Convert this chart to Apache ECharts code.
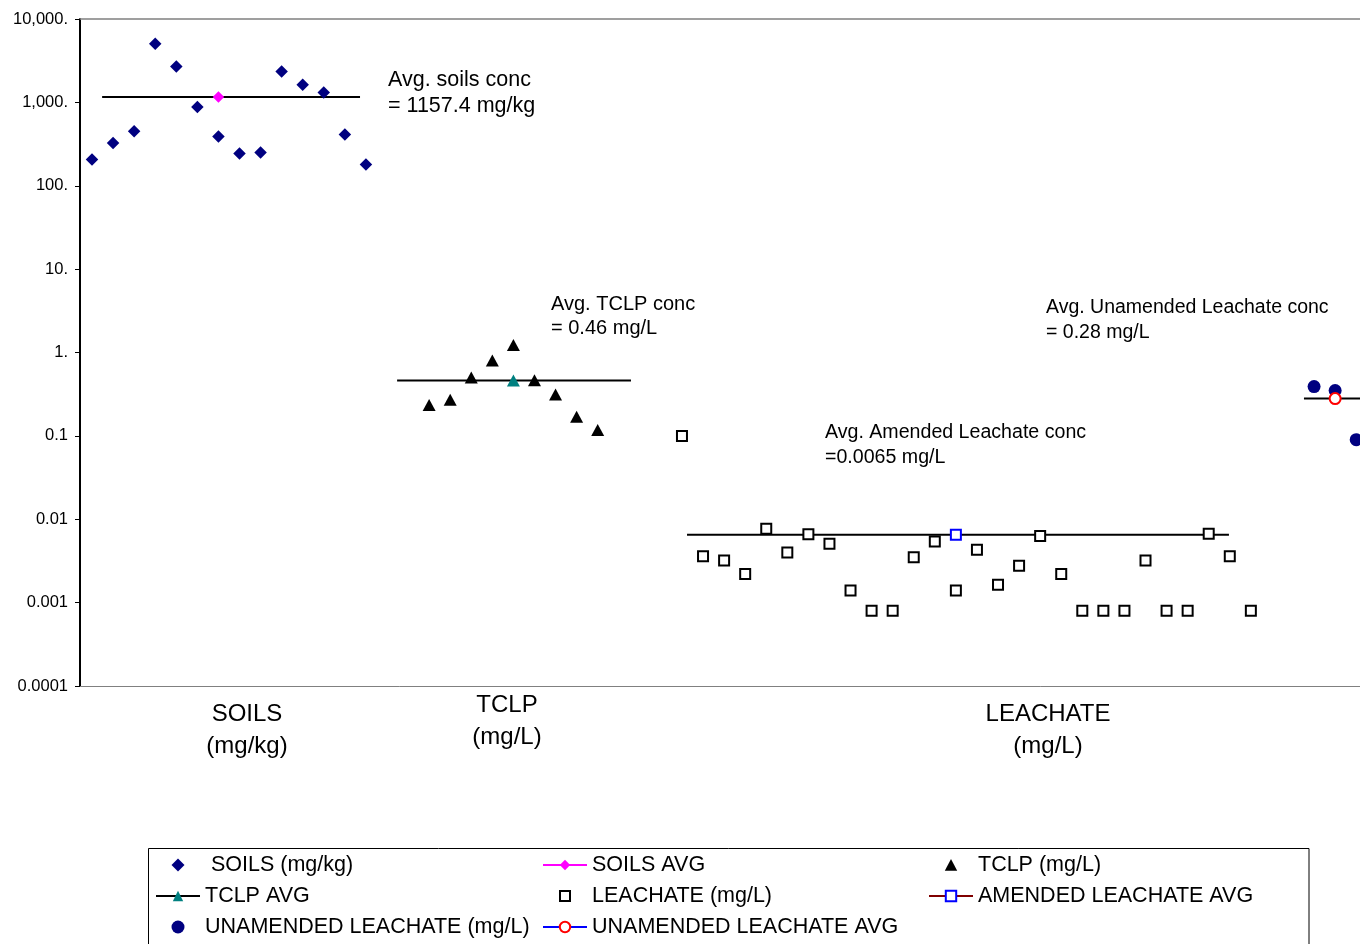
<!DOCTYPE html>
<html>
<head>
<meta charset="utf-8">
<script src="https://cdn.jsdelivr.net/npm/echarts@6/dist/echarts.min.js"></script>
<style>
  html, body { margin: 0; padding: 0; background: #fff; }
  #chart { width: 1360px; height: 944px; }
</style>
</head>
<body>
<div id="chart"></div>
<script>
// ---- data ----
const soilsStart = 1;
const soilsValues = [206, 325, 449, 5050, 2700, 880, 390, 243, 250, 2340, 1630, 1310, 411, 180];
const tclpStart = 17;
const tclpValues = [0.234, 0.272, 0.50, 0.80, 1.23, 0.466, 0.313, 0.170, 0.118];
const leachateStart = 29;
const leachateValues = [0.1, 0.0036, 0.0032, 0.0022, 0.0077, 0.0040, 0.0066, 0.0051, 0.0014, 0.0008,
  0.0008, 0.0035, 0.0054, 0.0014, 0.0043, 0.00164, 0.00276, 0.0063, 0.0022, 0.0008,
  0.0008, 0.0008, 0.0032, 0.0008, 0.0008, 0.0067, 0.0036, 0.0008];
const unamendedStart = 59;
const unamendedValues = [0.39, 0.35, 0.09];

const soilsAvg = [7, 1157.4];
const tclpAvg = [21, 0.46];
const amendedAvg = [42, 0.0065];
const unamendedAvg = [60, 0.28];

// horizontal extent (sample-index units) of each average bar
const soilsAvgSpan = [1.48, 13.72];
const tclpAvgSpan = [15.48, 26.58];
const amendedAvgSpan = [29.24, 54.96];
const unamendedAvgSpan = [58.52, 62];

const yTickLabels = ['0.0001', '0.001', '0.01', '0.1', '1.', '10.', '100.', '1,000.', '10,000.'];

const groupLabels = ['SOILS\n(mg/kg)', 'TCLP\n(mg/L)', 'LEACHATE\n(mg/L)'];
const annotations = [
  'Avg. soils conc\n= 1157.4 mg/kg',
  'Avg. TCLP conc\n= 0.46 mg/L',
  'Avg. Amended Leachate conc\n=0.0065 mg/L',
  'Avg. Unamended Leachate conc\n= 0.28 mg/L'
];

// ---- helpers ----
const FONT = "'Liberation Sans', Arial, Helvetica, sans-serif";
const X_MIN = 0.43, X_MAX = 61.18;
const pts = (start, vals) => vals.map((v, k) => [start + k, v]);
const avgLine = (span, v) => ({
  type: 'line', data: [[span[0], v], [span[1], v]], symbol: 'none', silent: true, z: 1,
  lineStyle: { color: '#000', width: 2 }, animation: false
});
// legend icons occupying the full 44x13 legend box, with the marker centred
const BOX = 'M0 0 L0 0 M44 13 L44 13 ';
const ICON_DIAMOND = 'path://' + BOX + 'M22 0 L28.5 6.5 L22 13 L15.5 6.5 Z';
const ICON_TRIANGLE = 'path://' + BOX + 'M22 0.5 L28.2 12.3 L15.8 12.3 Z';
const ICON_SQUARE = 'path://' + BOX + 'M17 1.5 L27 1.5 L27 11.5 L17 11.5 Z';
const ICON_CIRCLE = 'path://' + BOX + 'M28.5 6.5 A6.5 6.5 0 1 1 15.5 6.5 A6.5 6.5 0 1 1 28.5 6.5 Z';

const chart = echarts.init(document.getElementById('chart'), null, { renderer: 'canvas' });

const legendCommon = {
  orient: 'vertical', itemWidth: 44, itemHeight: 13, itemGap: 9, selectedMode: false,
  padding: 0, height: 140,
  textStyle: { fontFamily: FONT, fontSize: 21.5, color: '#000', lineHeight: 22 },
  formatter: n => (n === 'SOILS (mg/kg)' ? ' ' + n : n)
};

const hiddenAxisBits = {
  axisTick: { show: false }, axisLabel: { show: false }, splitLine: { show: false }
};

const option = {
  backgroundColor: '#fff',
  animation: false,
  grid: { left: 80, top: 19, right: 0, bottom: 258, show: false },
  xAxis: [
    Object.assign({
      type: 'value', min: X_MIN, max: X_MAX, position: 'bottom',
      axisLine: { show: true, lineStyle: { color: '#808080', width: 1 } }
    }, hiddenAxisBits),
    Object.assign({
      type: 'value', min: X_MIN, max: X_MAX, position: 'top',
      axisLine: { show: true, lineStyle: { color: '#808080', width: 1.5 } }
    }, hiddenAxisBits)
  ],
  yAxis: {
    type: 'log', logBase: 10, min: 0.0001, max: 10000, interval: 1,
    axisLine: { show: true, lineStyle: { color: '#000', width: 2 } },
    axisTick: { show: true, length: 5, lineStyle: { color: '#000', width: 1 } },
    minorTick: { show: false },
    splitLine: { show: false },
    axisLabel: {
      margin: 12, fontFamily: FONT, fontSize: 16.5, color: '#000',
      formatter: v => yTickLabels[Math.round(Math.log10(v)) + 4]
    }
  },
  legend: [
    Object.assign({ left: 155, top: 854, data: [
      { name: 'SOILS (mg/kg)', icon: ICON_DIAMOND }, 'TCLP AVG',
      { name: 'UNAMENDED LEACHATE (mg/L)', icon: ICON_CIRCLE }] }, legendCommon),
    Object.assign({ left: 542, top: 854, data: [
      'SOILS AVG', { name: 'LEACHATE (mg/L)', icon: ICON_SQUARE }, 'UNAMENDED LEACHATE AVG'] }, legendCommon),
    Object.assign({ left: 928, top: 854, data: [
      { name: 'TCLP (mg/L)', icon: ICON_TRIANGLE }, 'AMENDED LEACHATE AVG'] }, legendCommon)
  ],
  graphic: [
    { type: 'rect', shape: { x: 148.5, y: 848.5, width: 1160.5, height: 200 },
      style: { fill: 'none', stroke: '#000', lineWidth: 1 }, silent: true },
    { type: 'text', x: 388, y: 67, style: { text: annotations[0], font: '21.5px ' + FONT, lineHeight: 26, fill: '#000' } },
    { type: 'text', x: 551, y: 292, style: { text: annotations[1], font: '20px ' + FONT, lineHeight: 24, fill: '#000' } },
    { type: 'text', x: 825, y: 420, style: { text: annotations[2], font: '19.6px ' + FONT, lineHeight: 25, fill: '#000' } },
    { type: 'text', x: 1046, y: 295, style: { text: annotations[3], font: '19.5px ' + FONT, lineHeight: 25, fill: '#000' } },
    { type: 'text', x: 247, y: 698, style: { text: groupLabels[0], font: '24px ' + FONT, lineHeight: 32, fill: '#000', align: 'center' } },
    { type: 'text', x: 507, y: 689, style: { text: groupLabels[1], font: '24px ' + FONT, lineHeight: 32, fill: '#000', align: 'center' } },
    { type: 'text', x: 1048, y: 698, style: { text: groupLabels[2], font: '24px ' + FONT, lineHeight: 32, fill: '#000', align: 'center' } }
  ],
  series: [
    avgLine(soilsAvgSpan, soilsAvg[1]),
    avgLine(tclpAvgSpan, tclpAvg[1]),
    avgLine(amendedAvgSpan, amendedAvg[1]),
    avgLine(unamendedAvgSpan, unamendedAvg[1]),
    {
      name: 'SOILS (mg/kg)', type: 'scatter', data: pts(soilsStart, soilsValues), z: 3,
      symbol: 'diamond', symbolSize: 12.5, itemStyle: { color: '#000080', opacity: 1 }
    },
    {
      name: 'SOILS AVG', type: 'line', data: [soilsAvg], z: 4,
      symbol: 'diamond', symbolSize: 11.5, showSymbol: true,
      itemStyle: { color: '#FF00FF' }, lineStyle: { color: '#FF00FF', width: 1.5 }
    },
    {
      name: 'TCLP (mg/L)', type: 'scatter', data: pts(tclpStart, tclpValues), z: 3,
      symbol: 'triangle', symbolSize: [13, 12], itemStyle: { color: '#000', opacity: 1 }
    },
    {
      name: 'TCLP AVG', type: 'line', data: [tclpAvg], z: 4,
      symbol: 'triangle', symbolSize: [13, 12], showSymbol: true,
      itemStyle: { color: '#008080' }, lineStyle: { color: '#000', width: 1.5 }
    },
    {
      name: 'LEACHATE (mg/L)', type: 'scatter', data: pts(leachateStart, leachateValues), z: 3,
      symbol: 'rect', symbolSize: 10,
      itemStyle: { color: '#fff', borderColor: '#000', borderWidth: 2, opacity: 1 }
    },
    {
      name: 'AMENDED LEACHATE AVG', type: 'line', data: [amendedAvg], z: 4,
      symbol: 'rect', symbolSize: 10, showSymbol: true,
      itemStyle: { color: '#fff', borderColor: '#0000FF', borderWidth: 2 },
      lineStyle: { color: '#800000', width: 1.5 }
    },
    {
      name: 'UNAMENDED LEACHATE (mg/L)', type: 'scatter', data: pts(unamendedStart, unamendedValues), z: 3,
      symbol: 'circle', symbolSize: 13, itemStyle: { color: '#000080', opacity: 1 }
    },
    {
      name: 'UNAMENDED LEACHATE AVG', type: 'line', data: [unamendedAvg], z: 4,
      symbol: 'circle', symbolSize: 11, showSymbol: true,
      itemStyle: { color: '#fff', borderColor: '#FF0000', borderWidth: 2 },
      lineStyle: { color: '#0000FF', width: 1.5 }
    }
  ]
};

chart.setOption(option);
</script>
</body>
</html>
